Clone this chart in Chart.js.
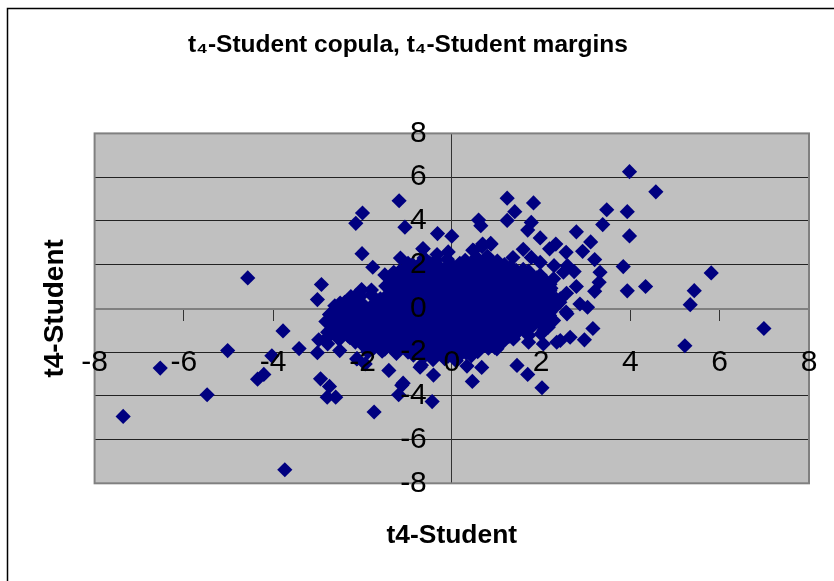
<!DOCTYPE html>
<html>
<head>
<meta charset="utf-8">
<title>t4-Student copula, t4-Student margins</title>
<script src="https://cdn.jsdelivr.net/npm/chart.js@4/dist/chart.umd.min.js"></script>
<style>
  html, body { margin: 0; padding: 0; background: #fff; }
  canvas { display: block; }
</style>
</head>
<body>
<canvas id="copulaChart" width="834" height="581"></canvas>
<script>
const chartTitle = 't₄-Student copula, t₄-Student margins';
const xAxisLabel = 't4-Student';
const yAxisLabel = 't4-Student';
const tickValues = [-8, -6, -4, -2, 0, 2, 4, 6, 8];

// scattered points
const tailX = [
  -7.36, -6.53, -5.48, -5.02, -4.57, -4.35, -4.21, -4.03, -3.78, -3.74, -3.42, -3.01, -3.01, -2.92, -2.94, -2.74, -2.79, -2.6,
  -2.98, -2.78, -2.78, -2.74, -2.51, -2.13, -1.94, -1.74, -1.41, -1.19, -1.09, -1.12, -0.71, -0.44, -0.41,
  -2.15, -2.0, -2.01, -1.77, -1.5, -1.18, -1.05, -0.32, 0.0, -0.65,
  3.98, 4.57, 1.24, 1.83, 1.41, 3.47, 3.93, 0.6, 0.65, 1.24, 1.78, 1.7, 3.38, 2.79, 3.98, 1.98, 3.11, 2.93, 2.33, 2.19, 2.56, 1.6,
  3.2, 3.84, 5.81, 5.43, 5.34, 4.34, 3.93, 3.32, 3.3, 3.2, 2.79, 2.57, 2.87, 3.04, 2.56, 2.19, 0.87, 0.69, 0.49, 1.78, 1.98, 2.29, 2.59, 2.74, 2.5, 2.28, 2.43, 2.2,
  6.99, 5.22, 3.16, 2.97, 2.65, 2.43, 2.58, 2.28, 2.02, 1.7, 1.46, 0.46, 0.67, 1.01, 1.38, 1.72, 2.05, 2.0, 1.5, 2.35, 2.16
];
const tailY = [
  -4.94, -2.73, -3.95, -1.93, 1.39, -3.24, -3.02, -2.17, -1.03, -7.38, -1.84, -2.03, 0.4, 1.09, -3.22, -3.57, -4.06, -4.06,
  -1.44, -1.62, -1.09, -0.28, -1.93, -2.31, -2.54, -4.74, -2.84, -3.95, -3.42, -3.52, -2.69, -4.26, -3.05,
  3.89, 4.36, 2.5, 1.88, 1.53, 4.92, 3.71, 3.42, 3.3, 2.72,
  6.25, 5.33, 5.04, 4.82, 4.42, 4.51, 4.42, 4.04, 3.78, 4.02, 3.93, 3.58, 3.83, 3.5, 3.31, 3.22, 3.04, 2.61, 2.94, 2.72, 2.56, 2.7,
  2.23, 1.91, 1.62, 0.81, 0.17, 1.0, 0.8, 1.65, 1.19, 0.78, 1.0, 0.69, 0.2, 0.05, -0.17, -0.33, 2.97, 2.94, 2.64, 2.33, 2.1, 1.95, 1.95, 1.68, 1.65, 1.35, 0.43, 0.9,
  -0.92, -1.71, -0.92, -1.44, -1.32, -1.47, -0.25, -0.56, -3.63, -3.02, -2.61, -3.34, -2.7, -1.85, -1.4, -1.55, -1.63, -1.17, -1.0, -1.55, -0.86
];

// the dense middle of the cloud, estimated row by row
const coreX = [
  -0.64, -0.33, -0.08, 0.47, 0.68, 0.88,
  -1.15, -0.88, -0.62, -0.36, -0.1, 0.3, 0.55, 0.8, 1.02, 1.37,
  -1.3, -1.02, -0.76, -0.5, -0.24, 0.02, 0.28, 0.54, 0.8, 1.06, 1.32, 1.6,
  -1.36, -1.1, -0.88, -0.62, -0.36, -0.1, 0.16, 0.42, 0.68, 0.94, 1.2, 1.46, 1.72, 1.98,
  -1.28, -1.02, -0.76, -0.5, -0.24, 0.02, 0.28, 0.54, 0.8, 1.06, 1.32, 1.58, 1.84, 2.1,
  -1.48, -1.16, -0.9, -0.64, -0.38, -0.12, 0.14, 0.4, 0.66, 0.92, 1.18, 1.44, 1.7, 1.96, 2.22,
  -2.02, -1.8, -1.3, -1.04, -0.78, -0.52, -0.26, 0.0, 0.26, 0.52, 0.78, 1.04, 1.3, 1.56, 1.82, 2.08, 2.34,
  -2.4, -2.16, -1.6, -1.36, -1.1, -0.84, -0.58, -0.32, -0.06, 0.2, 0.46, 0.72, 0.98, 1.24, 1.5, 1.76, 2.02, 2.28,
  -2.62, -2.34, -2.08, -1.82, -1.56, -1.3, -1.04, -0.78, -0.52, -0.26, 0.0, 0.26, 0.52, 0.78, 1.04, 1.3, 1.56, 1.82, 2.08, 2.34,
  -2.72, -2.46, -2.2, -1.94, -1.68, -1.42, -1.16, -0.9, -0.64, -0.38, -0.12, 0.14, 0.4, 0.66, 0.92, 1.18, 1.44, 1.7, 1.96, 2.2,
  -2.82, -2.5, -2.3, -2.06, -1.8, -1.54, -1.28, -1.02, -0.76, -0.5, -0.24, 0.02, 0.28, 0.54, 0.8, 1.06, 1.32, 1.58, 1.84, 2.06,
  -2.62, -2.36, -2.1, -1.84, -1.58, -1.32, -1.06, -0.8, -0.54, -0.28, -0.02, 0.24, 0.5, 0.76, 1.02, 1.28, 1.54, 1.8, 2.06,
  -2.72, -2.44, -2.2, -1.94, -1.68, -1.42, -1.16, -0.9, -0.64, -0.38, -0.12, 0.14, 0.4, 0.66, 0.92, 1.18, 1.42, 1.72,
  -2.8, -2.52, -2.28, -2.04, -1.78, -1.52, -1.26, -1.0, -0.74, -0.48, -0.22, 0.04, 0.3, 0.56, 0.82, 1.06, 1.36,
  -2.02, -1.9, -1.64, -1.38, -1.12, -0.86, -0.6, -0.34, -0.08, 0.18, 0.44, 0.7, 0.96,
  -2.12, -1.88, -1.56, -1.24, -0.98, -0.72, -0.46, -0.2, 0.06, 0.32, 0.58,
  -0.68, -0.42, -0.16, 0.1, 0.34
];
const coreY = [
  2.72, 2.46, 2.58, 2.66, 2.82, 2.94,
  2.3, 2.0, 2.3, 2.2, 2.24, 2.2, 2.34, 2.38, 2.16, 2.32,
  1.65, 1.86, 1.88, 1.92, 1.82, 1.94, 1.9, 1.86, 1.92, 1.84, 1.9, 1.78,
  1.38, 1.55, 1.6, 1.62, 1.58, 1.64, 1.56, 1.6, 1.62, 1.56, 1.6, 1.54, 1.6, 1.52,
  1.28, 1.32, 1.26, 1.3, 1.34, 1.26, 1.3, 1.28, 1.34, 1.28, 1.3, 1.24, 1.32, 1.26,
  1.02, 0.98, 1.02, 0.96, 1.04, 0.98, 1.0, 1.02, 0.96, 1.02, 0.98, 1.04, 0.96, 1.0, 0.92,
  0.86, 0.84, 0.7, 0.72, 0.68, 0.74, 0.7, 0.68, 0.72, 0.7, 0.66, 0.72, 0.7, 0.74, 0.68, 0.7, 0.42,
  0.28, 0.56, 0.44, 0.42, 0.38, 0.44, 0.4, 0.36, 0.42, 0.4, 0.38, 0.44, 0.4, 0.38, 0.42, 0.4, 0.36, 0.44,
  0.12, 0.08, 0.14, 0.06, 0.1, 0.12, 0.08, 0.1, 0.14, 0.06, 0.1, 0.12, 0.08, 0.1, 0.14, 0.08, 0.12, 0.1, 0.06, 0.12,
  -0.28, -0.22, -0.18, -0.2, -0.24, -0.16, -0.2, -0.22, -0.18, -0.2, -0.24, -0.18, -0.2, -0.16, -0.22, -0.2, -0.18, -0.22, -0.2, -0.18,
  -0.6, -0.56, -0.48, -0.52, -0.5, -0.54, -0.48, -0.5, -0.52, -0.46, -0.5, -0.54, -0.5, -0.48, -0.52, -0.5, -0.54, -0.48, -0.5, -0.56,
  -0.82, -0.78, -0.8, -0.84, -0.76, -0.8, -0.82, -0.78, -0.8, -0.84, -0.76, -0.8, -0.82, -0.78, -0.8, -0.84, -0.78, -0.82, -1.0,
  -1.08, -1.14, -1.1, -1.06, -1.12, -1.08, -1.1, -1.14, -1.06, -1.1, -1.12, -1.08, -1.1, -1.06, -1.14, -1.1, -1.2, -1.24,
  -1.36, -1.42, -1.34, -1.4, -1.38, -1.42, -1.36, -1.4, -1.42, -1.38, -1.4, -1.36, -1.42, -1.38, -1.44, -1.4, -1.32,
  -1.62, -1.72, -1.68, -1.7, -1.66, -1.72, -1.68, -1.7, -1.66, -1.72, -1.68, -1.7, -1.78,
  -2.3, -2.0, -1.96, -2.06, -2.0, -2.04, -1.96, -2.02, -2.0, -2.04, -1.98,
  -2.6, -2.34, -2.3, -2.4, -2.64
];

// more estimated points, between the rows above, so the middle closes up
const fillX = [
  -0.98, -0.72, -0.5, -0.04, 0.18, 0.44, 0.66, 0.92, 1.18,
  -1.16, -0.9, -0.64, -0.38, -0.12, 0.14, 0.4, 0.66, 0.92, 1.18, 1.44, 1.72,
  -1.22, -0.96, -0.7, -0.44, -0.18, 0.08, 0.34, 0.6, 0.86, 1.12, 1.38, 1.64, 1.9,
  -1.4, -1.14, -0.88, -0.62, -0.36, -0.1, 0.16, 0.42, 0.68, 0.94, 1.2, 1.46, 1.72, 1.98, 2.2,
  -1.18, -0.92, -0.66, -0.4, -0.14, 0.12, 0.38, 0.64, 0.9, 1.16, 1.42, 1.68, 1.94, 2.2,
  -2.26, -2.04, -1.8, -1.46, -1.2, -0.94, -0.68, -0.42, -0.16, 0.1, 0.36, 0.62, 0.88, 1.14, 1.4, 1.66, 1.92, 2.18,
  -2.5, -2.24, -1.98, -1.66, -1.42, -1.16, -0.9, -0.64, -0.38, -0.12, 0.14, 0.4, 0.66, 0.92, 1.18, 1.44, 1.7, 1.96, 2.22, 2.42,
  -2.58, -2.32, -2.06, -1.8, -1.54, -1.28, -1.02, -0.76, -0.5, -0.24, 0.02, 0.28, 0.54, 0.8, 1.06, 1.32, 1.58, 1.84, 2.1,
  -2.62, -2.36, -2.1, -1.84, -1.58, -1.32, -1.06, -0.8, -0.54, -0.28, -0.02, 0.24, 0.5, 0.76, 1.02, 1.28, 1.54, 1.8, 2.04,
  -2.72, -2.48, -2.22, -1.96, -1.7, -1.44, -1.18, -0.92, -0.66, -0.4, -0.14, 0.12, 0.38, 0.64, 0.9, 1.16, 1.42, 1.68, 1.94,
  -2.5, -2.28, -2.02, -1.76, -1.5, -1.24, -0.98, -0.72, -0.46, -0.2, 0.06, 0.32, 0.58, 0.84, 1.1, 1.36, 1.62,
  -2.58, -2.32, -2.06, -1.8, -1.54, -1.28, -1.02, -0.76, -0.5, -0.24, 0.02, 0.28, 0.54, 0.8, 1.06, 1.28,
  -2.16, -1.9, -1.64, -1.38, -1.12, -0.86, -0.6, -0.34, -0.08, 0.18, 0.44, 0.7, 0.96, 1.16,
  -1.76, -1.5, -1.24, -0.98, -0.72, -0.46, -0.2, 0.06, 0.32, 0.58, 0.82,
  -0.86, -0.6, -0.34, -0.08, 0.18, 0.44
];
const fillY = [
  2.06, 2.02, 2.08, 2.04, 2.06, 2.02, 2.08, 2.04, 2.0,
  1.72, 1.76, 1.74, 1.78, 1.72, 1.76, 1.74, 1.78, 1.72, 1.76, 1.74, 1.7,
  1.44, 1.46, 1.42, 1.48, 1.44, 1.46, 1.42, 1.48, 1.44, 1.46, 1.42, 1.44, 1.4,
  1.14, 1.16, 1.12, 1.18, 1.14, 1.16, 1.12, 1.18, 1.14, 1.16, 1.12, 1.18, 1.14, 1.16, 1.1,
  0.84, 0.86, 0.82, 0.88, 0.84, 0.86, 0.82, 0.88, 0.84, 0.86, 0.82, 0.88, 0.84, 0.8,
  0.54, 0.56, 0.62, 0.58, 0.54, 0.56, 0.52, 0.58, 0.54, 0.56, 0.52, 0.58, 0.54, 0.56, 0.52, 0.58, 0.54, 0.5,
  0.24, 0.26, 0.16, 0.28, 0.24, 0.26, 0.22, 0.28, 0.24, 0.26, 0.22, 0.28, 0.24, 0.26, 0.22, 0.28, 0.24, 0.26, 0.22, 0.28,
  -0.04, -0.06, -0.02, -0.08, -0.04, -0.06, -0.02, -0.08, -0.04, -0.06, -0.02, -0.08, -0.04, -0.06, -0.02, -0.08, -0.04, -0.06, -0.02,
  -0.34, -0.36, -0.32, -0.38, -0.34, -0.36, -0.32, -0.38, -0.34, -0.36, -0.32, -0.38, -0.34, -0.36, -0.32, -0.38, -0.34, -0.36, -0.32,
  -0.64, -0.66, -0.62, -0.68, -0.64, -0.66, -0.62, -0.68, -0.64, -0.66, -0.62, -0.68, -0.64, -0.66, -0.62, -0.68, -0.64, -0.66, -0.62,
  -0.94, -0.96, -0.92, -0.98, -0.94, -0.96, -0.92, -0.98, -0.94, -0.96, -0.92, -0.98, -0.94, -0.96, -0.92, -0.98, -0.94,
  -1.24, -1.26, -1.22, -1.28, -1.24, -1.26, -1.22, -1.28, -1.24, -1.26, -1.22, -1.28, -1.24, -1.26, -1.22, -1.28,
  -1.54, -1.56, -1.52, -1.58, -1.54, -1.56, -1.52, -1.58, -1.54, -1.56, -1.52, -1.58, -1.54, -1.5,
  -1.84, -1.86, -1.82, -1.88, -1.84, -1.86, -1.82, -1.88, -1.84, -1.86, -1.82,
  -2.14, -2.16, -2.12, -2.18, -2.14, -2.16
];

const allX = tailX.concat(coreX, fillX);
const allY = tailY.concat(coreY, fillY);
const points = allX.map(function (x, i) { return { x: x, y: allY[i] }; });

// grey plot box and the black page frame, excel style
const plotBox = {
  id: 'plotBox',
  beforeDraw: function (chart) {
    const ctx = chart.ctx, a = chart.chartArea;
    ctx.save();
    ctx.fillStyle = '#C0C0C0';
    ctx.fillRect(a.left, a.top, a.right - a.left, a.bottom - a.top);
    ctx.strokeStyle = '#000';
    ctx.lineWidth = 1.5;
    ctx.beginPath();
    ctx.moveTo(7.5, 581);
    ctx.lineTo(7.5, 8.5);
    ctx.lineTo(834, 8.5);
    ctx.stroke();
    ctx.restore();
  },
  beforeDatasetsDraw: function (chart) {
    const ctx = chart.ctx, a = chart.chartArea;
    ctx.save();
    ctx.strokeStyle = '#808080';
    ctx.lineWidth = 2;
    ctx.strokeRect(a.left, a.top, a.right - a.left, a.bottom - a.top);
    ctx.restore();
  }
};

const tickFont = { family: '"Liberation Sans"', size: 30 };

function fixedTicks(scale) {
  scale.ticks = tickValues.map(function (v) { return { value: v }; });
}

const ctx = document.getElementById('copulaChart').getContext('2d');
const copulaChart = new Chart(ctx, {
  type: 'scatter',
  data: {
    datasets: [{
      label: 't4-Student',
      data: points,
      pointStyle: 'rectRot',
      pointRadius: 7.6,
      pointHoverRadius: 7.6,
      backgroundColor: '#000080',
      borderColor: '#000080',
      borderWidth: 0
    }]
  },
  plugins: [plotBox],
  options: {
    responsive: false,
    animation: false,
    layout: { padding: { left: 0, right: 18, top: 0, bottom: 0 } },
    plugins: {
      legend: { display: false },
      tooltip: { enabled: false },
      title: {
        display: true,
        text: chartTitle,
        color: '#000',
        font: { family: '"Liberation Sans"', size: 24.5, weight: 'bold' },
        padding: { top: 31, bottom: 73 }
      }
    },
    scales: {
      // both axes cross at 0, which is the middle of the symmetric range
      x: {
        type: 'linear',
        min: -8,
        max: 8,
        position: 'center',
        afterBuildTicks: fixedTicks,
        // tick padding would otherwise eat into the plot width
        afterFit: function (scale) {
          scale.paddingLeft = 0;
          scale.paddingRight = 25;
        },
        border: { color: '#808080', width: 2 },
        grid: { drawOnChartArea: false, color: '#333', tickLength: 11 },
        ticks: { z: 1, color: '#000', font: tickFont, padding: 25, maxRotation: 0, autoSkip: false, callback: function (v) { return String(v); } }
      },
      y: {
        type: 'linear',
        min: -8,
        max: 8,
        position: 'center',
        afterBuildTicks: fixedTicks,
        border: { color: '#333', width: 1 },
        grid: { color: '#222', lineWidth: 1, tickLength: 10 },
        ticks: { z: 1, color: '#000', font: tickFont, padding: 15, autoSkip: false, callback: function (v) { return String(v); } }
      },
      xTitle: {
        type: 'linear',
        axis: 'x',
        position: 'bottom',
        ticks: { display: false },
        grid: { display: false },
        border: { display: false },
        title: { display: true, text: xAxisLabel, color: '#000', font: { family: '"Liberation Sans"', size: 26.4, weight: 'bold' }, padding: { top: 29, bottom: 29 } }
      },
      yTitle: {
        type: 'linear',
        axis: 'y',
        position: 'left',
        ticks: { display: false },
        grid: { display: false },
        border: { display: false },
        title: { display: true, text: yAxisLabel, color: '#000', font: { family: '"Liberation Sans"', size: 28, weight: 'bold' }, padding: { top: 38, bottom: 15 } }
      }
    }
  }
});
</script>
</body>
</html>
